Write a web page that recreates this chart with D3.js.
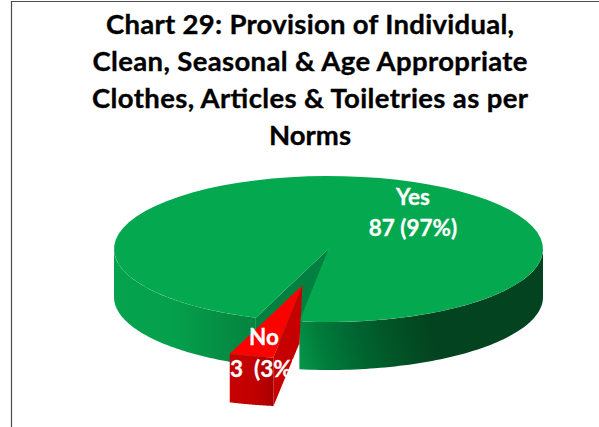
<!DOCTYPE html>
<html><head><meta charset="utf-8">
<script src="https://cdn.jsdelivr.net/npm/d3@7"></script>
<style>html,body{margin:0;padding:0;background:#fff}svg{display:block}text{font-family:Lato,"Open Sans",sans-serif;font-weight:700}</style>
</head><body><svg id="c" width="599" height="427"></svg>
<script>
const titleLines = ["Chart 29: Provision of Individual,","Clean, Seasonal & Age Appropriate","Clothes, Articles & Toiletries as per","Norms"];
const categories = ["Yes","No"];
const values = [87,3];
const labelFirst = ["Yes","No"];
const labelSecond = ["87 (97%)","3  (3%)"];

const W=599,H=427,cx=328.5,cy=249,rx=214.5,ry=73,depth=48;
const explode=0.51, startDeg=199.8;
const svg=d3.select("#c");
const rad=d=>d*Math.PI/180;
const sx=d3.scaleLinear().domain([-1,1]).range([cx-rx,cx+rx]);
const sy=d3.scaleLinear().domain([-1,1]).range([cy+ry,cy-ry]);
const pie=d3.pie().sort(null).startAngle(rad(startDeg)).endAngle(rad(startDeg+360));
const arcs=pie(values);
const yes=arcs[0], no=arcs[1];

const pt=(a,r=1,ox=0,oy=0)=>[sx(r*Math.sin(a)+ox),sy(r*Math.cos(a)+oy)];
const arcPts=(a0,a1,ox=0,oy=0)=>d3.range(0,73).map(i=>pt(a0+(a1-a0)*i/72,1,ox,oy));
const down=(p,d=depth)=>[p[0],p[1]+d];
const poly=d3.line().curve(d3.curveLinear);
const closed=pts=>poly(pts)+"Z";

const defs=svg.append("defs");
function grad(id,x1,y1,x2,y2,stops){
  const g=defs.append("linearGradient").attr("id",id).attr("gradientUnits","userSpaceOnUse").attr("x1",x1).attr("x2",x2).attr("y1",y1).attr("y2",y2);
  stops.forEach(s=>g.append("stop").attr("offset",s[0]).attr("stop-color",s[1]));
}
grad("gL",sx(-1),0,245,0,[[0,"#05a34e"],[0.45,"#05a04c"],[1,"#058640"]]);
grad("gR",296,378,440,340,[[0,"#089c4b"],[0.22,"#007c3b"],[0.5,"#00622f"],[0.9,"#03461f"],[1,"#034320"]]);
grad("rO",229,0,273,0,[[0,"#c80000"],[0.6,"#c00000"],[1,"#a80000"]]);

// wall of the notch left by the "No" slice
const apex=pt(0,0);
const e0=pt(yes.startAngle);
svg.append("path").attr("d",closed([apex,e0,down(e0),down(apex)])).attr("fill","#018040");
// outer walls of "Yes"
const leftOuter=arcPts(rad(270),yes.startAngle);
svg.append("path").attr("d",closed([...leftOuter,...leftOuter.map(p=>down(p)).reverse()])).attr("fill","url(#gL)");
const rightOuter=arcPts(yes.endAngle,rad(360+90));
svg.append("path").attr("d",closed([...rightOuter,...rightOuter.map(p=>down(p)).reverse()])).attr("fill","url(#gR)");
// top of "Yes"
svg.append("path").attr("d",closed([apex,...arcPts(yes.startAngle,yes.endAngle)])).attr("fill","#04a84f");

// exploded "No"
const mid=(no.startAngle+no.endAngle)/2;
const ox=explode*Math.sin(mid), oy=explode*Math.cos(mid);
const ra=pt(0,0,ox,oy);
const rEdge=arcPts(no.startAngle,no.endAngle,ox,oy);
const r1=rEdge[0];
const raBottom=[ra[0]-3,ra[1]+58];
svg.append("path").attr("d",closed([ra,r1,down(r1,49),raBottom])).attr("fill","#c60000");
svg.append("path").attr("d",closed([...rEdge,...rEdge.map(p=>down(p,48.5)).reverse()])).attr("fill","url(#rO)");
svg.append("path").attr("d",closed([ra,...rEdge])).attr("fill","#ff0000");

// frame
svg.append("path").attr("d",`M11.5,${H}V1.5H${W}`).attr("fill","none").attr("stroke","#4d4d4d").attr("stroke-width",1.2);

// title
const titleWidths=[408,435,436,82];
svg.append("g").selectAll("text").data(titleLines).join("text")
  .attr("x",310).attr("y",(d,i)=>34+i*37).attr("text-anchor","middle")
  .attr("font-size",27.5).attr("fill","#000").attr("stroke","#000").attr("stroke-width",0.35)
  .attr("textLength",(d,i)=>titleWidths[i]).attr("lengthAdjust","spacing").text(d=>d);

// labels
const labelX=[413,264], labelY=[[205,236],[345,377]];
const lab=svg.append("g").attr("fill","#fff").attr("stroke","#fff").attr("stroke-width",0.3).attr("font-size",22.5).attr("text-anchor","middle");
categories.forEach((c,i)=>{
  lab.append("text").attr("x",labelX[i]).attr("y",labelY[i][0]).text(labelFirst[i]);
  lab.append("text").attr("x",labelX[i]).attr("y",labelY[i][1]).style("white-space","pre").text(labelSecond[i]);
});
</script></body></html>
